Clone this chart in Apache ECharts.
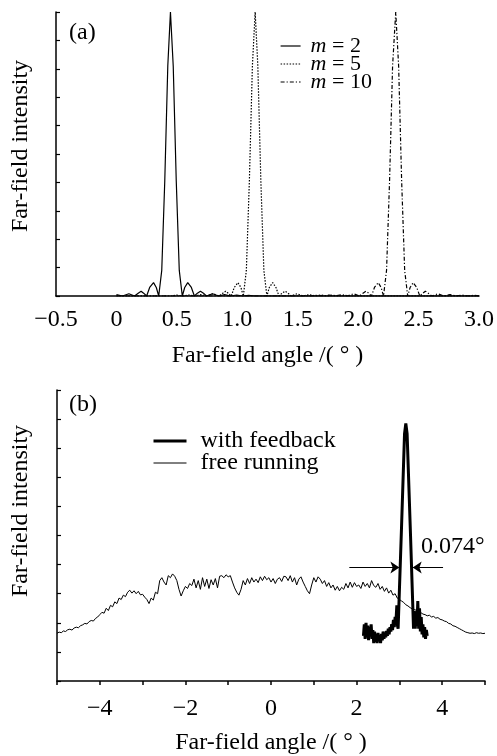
<!DOCTYPE html>
<html><head><meta charset="utf-8">
<script src="https://cdn.jsdelivr.net/npm/echarts@6/dist/echarts.min.js"></script>
<style>html,body{margin:0;padding:0;background:#fff}#c{width:497px;height:756px}</style>
</head><body><div id="c"></div>
<script>
const FONT = '"Liberation Serif","Times New Roman",serif';

// ---- panel (a): far-field intensity vs angle (deg), m = 2, 5, 10
const seriesNamesA = ['m = 2', 'm = 5', 'm = 10'];
const m2 = [[0.0,0.05],[0.05,0],[0.103,0.08],[0.15,0],[0.18,0.1],[0.204,0.17],[0.225,0.1],[0.25,0],[0.275,0.3],[0.307,0.47],[0.33,0.3],[0.35,0],
  [0.375,0.9],[0.40,4.05],[0.425,8.1],[0.447,10],[0.47,8.1],[0.495,4.05],[0.52,0.9],[0.545,0],
  [0.565,0.3],[0.59,0.47],[0.62,0.3],[0.645,0],[0.67,0.1],[0.695,0.17],[0.72,0.1],[0.745,0],[0.795,0.08],[0.845,0],[0.895,0.05],[0.945,0],[0.995,0.035],[1.045,0],[1.095,0.025],[1.145,0],[3.0,0]];
const m5 = [[0.0,0],[0.45,0],[0.50,0.03],[0.55,0],[0.60,0.035],[0.65,0],[0.70,0.05],[0.75,0],[0.80,0.08],[0.85,0],[0.88,0.1],[0.904,0.17],[0.925,0.1],[0.95,0],
  [0.975,0.3],[1.005,0.47],[1.03,0.3],[1.05,0],[1.075,0.9],[1.10,4.05],[1.125,8.1],[1.148,10],[1.17,8.1],[1.195,4.05],[1.22,0.9],[1.245,0],
  [1.265,0.3],[1.293,0.47],[1.32,0.3],[1.345,0],[1.37,0.1],[1.395,0.17],[1.42,0.1],[1.445,0],[1.495,0.08],[1.545,0],[1.595,0.05],[1.645,0],[1.695,0.035],[1.745,0],[1.795,0.025],[1.845,0],[1.895,0.02],[1.945,0],[3.0,0]];
const m10 = [[0.0,0],[1.61,0],[1.66,0.025],[1.71,0],[1.76,0.035],[1.81,0],[1.862,0.05],[1.91,0],[1.963,0.08],[2.01,0],[2.04,0.1],[2.064,0.17],[2.088,0.1],[2.11,0],
  [2.135,0.3],[2.167,0.47],[2.19,0.3],[2.21,0],[2.235,0.9],[2.26,4.05],[2.285,8.1],[2.311,10],[2.335,8.1],[2.36,4.05],[2.385,0.9],[2.41,0],
  [2.43,0.3],[2.455,0.47],[2.485,0.3],[2.51,0],[2.535,0.1],[2.556,0.17],[2.58,0.1],[2.61,0],[2.66,0.08],[2.71,0],[2.76,0.05],[2.81,0],[2.86,0.035],[2.91,0],[2.96,0.025],[3.0,0]];

// ---- panel (b): measured far field
const seriesNamesB = ['with feedback', 'free running'];
const freeRunning = [
[-5.00,1.64],[-4.95,1.68],[-4.90,1.66],[-4.85,1.72],[-4.80,1.70],[-4.75,1.76],[-4.70,1.78],[-4.65,1.75],[-4.60,1.82],[-4.55,1.85],
[-4.50,1.83],[-4.45,1.90],[-4.40,1.93],[-4.35,1.98],[-4.30,1.96],[-4.25,2.04],[-4.20,2.08],[-4.15,2.06],[-4.10,2.15],[-4.05,2.20],
[-4.00,2.28],[-3.95,2.36],[-3.90,2.33],[-3.85,2.50],[-3.80,2.42],[-3.75,2.60],[-3.70,2.55],[-3.65,2.72],[-3.60,2.66],[-3.55,2.85],
[-3.50,2.80],[-3.45,2.95],[-3.40,2.90],[-3.35,3.05],[-3.30,3.12],[-3.25,3.02],[-3.20,3.10],[-3.15,3.00],[-3.10,3.08],[-3.05,2.96],
[-3.00,2.98],[-2.95,2.88],[-2.90,2.80],[-2.85,2.66],[-2.80,2.85],[-2.75,2.78],[-2.70,3.05],[-2.65,3.00],[-2.60,3.45],[-2.55,3.55],
[-2.50,3.40],[-2.45,3.30],[-2.40,3.62],[-2.35,3.55],[-2.30,3.68],[-2.25,3.60],[-2.20,3.45],[-2.15,3.15],[-2.10,2.92],[-2.05,3.10],
[-2.00,3.25],[-1.95,3.18],[-1.90,3.35],[-1.85,3.28],[-1.80,3.50],[-1.75,3.20],[-1.70,3.45],[-1.65,3.15],[-1.60,3.55],[-1.55,3.25],
[-1.50,3.50],[-1.45,3.18],[-1.40,3.48],[-1.35,3.30],[-1.30,3.52],[-1.25,3.20],[-1.20,3.60],[-1.15,3.62],[-1.10,3.55],[-1.05,3.65],
[-1.00,3.58],[-0.95,3.62],[-0.90,3.40],[-0.85,3.20],[-0.80,3.05],[-0.75,2.95],[-0.70,3.15],[-0.65,3.45],[-0.60,3.30],[-0.55,3.52],
[-0.50,3.35],[-0.45,3.55],[-0.40,3.40],[-0.35,3.50],[-0.30,3.38],[-0.25,3.58],[-0.20,3.45],[-0.15,3.60],[-0.10,3.48],[-0.05,3.55],
[0.00,3.40],[0.05,3.52],[0.10,3.35],[0.15,3.50],[0.20,3.55],[0.25,3.42],[0.30,3.60],[0.35,3.58],[0.40,3.45],[0.45,3.62],
[0.50,3.40],[0.55,3.55],[0.60,3.30],[0.65,3.50],[0.70,3.58],[0.75,3.40],[0.80,3.25],[0.85,3.10],[0.90,3.00],[0.95,3.30],
[1.00,3.55],[1.05,3.40],[1.10,3.58],[1.15,3.50],[1.20,3.35],[1.25,3.45],[1.30,3.25],[1.35,3.38],[1.40,3.20],[1.45,3.30],
[1.50,3.12],[1.55,3.25],[1.60,3.10],[1.65,3.22],[1.70,3.15],[1.75,3.35],[1.80,3.20],[1.85,3.40],[1.90,3.22],[1.95,3.38],
[2.00,3.25],[2.05,3.30],[2.10,3.18],[2.15,3.40],[2.20,3.25],[2.25,3.35],[2.30,3.20],[2.35,3.45],[2.40,3.28],[2.45,3.22],
[2.50,3.35],[2.55,3.15],[2.60,3.25],[2.65,3.08],[2.70,3.20],[2.75,3.02],[2.80,3.12],[2.85,2.95],[2.90,3.00],[2.95,2.85],
[3.00,2.80],[3.05,2.75],[3.10,2.70],[3.15,2.62],[3.20,2.58],[3.25,2.52],[3.30,2.48],[3.35,2.46],[3.40,2.42],[3.45,2.38],
[3.50,2.35],[3.55,2.30],[3.60,2.28],[3.65,2.24],[3.70,2.26],[3.75,2.20],[3.80,2.22],[3.85,2.16],[3.90,2.18],[3.95,2.12],
[4.00,2.10],[4.05,2.06],[4.10,2.04],[4.15,1.98],[4.20,1.96],[4.25,1.90],[4.30,1.88],[4.35,1.84],[4.40,1.80],[4.45,1.76],
[4.50,1.72],[4.55,1.68],[4.60,1.66],[4.65,1.64],[4.70,1.65],[4.75,1.63],[4.80,1.66],[4.85,1.64],[4.90,1.65],[4.95,1.63],[5.00,1.64]];
const withFeedback = [
[2.16,1.55],[2.18,1.95],[2.20,1.45],[2.22,2.00],[2.24,1.50],[2.26,1.90],[2.28,1.40],[2.30,1.85],[2.32,1.55],[2.34,1.95],
[2.36,1.45],[2.38,1.75],[2.40,1.30],[2.42,1.70],[2.44,1.35],[2.46,1.60],[2.48,1.30],[2.50,1.65],[2.52,1.38],[2.54,1.55],
[2.56,1.30],[2.58,1.62],[2.60,1.40],[2.62,1.70],[2.64,1.45],[2.66,1.65],[2.68,1.50],[2.70,1.72],[2.72,1.55],[2.74,1.80],
[2.76,1.60],[2.78,1.85],[2.80,1.70],[2.82,1.95],[2.84,1.75],[2.86,2.10],[2.88,1.85],[2.90,2.20],[2.92,2.05],[2.94,2.60],
[2.955,1.90],[2.97,1.80],[3.05,5.3],[3.12,8.5],[3.15,8.85],[3.18,8.5],[3.26,5.0],[3.33,1.8],
[3.35,2.4],[3.37,1.8],[3.39,2.2],[3.41,1.9],[3.43,2.75],[3.45,1.8],[3.47,2.5],[3.49,1.7],[3.51,2.2],[3.53,1.6],
[3.55,1.95],[3.57,1.5],[3.59,1.85],[3.61,1.45],[3.63,1.75],[3.65,1.55]];
// width annotation: arrow level and arrow ends (angle, intensity)
const widthLabel = '0.074\u00b0';
const arrowLevel = 3.9;
const arrowLeft = [1.83, 3.0];
const arrowRight = [4.02, 3.31];

const black = '#000';
const txt = {fontFamily: FONT, fontSize: 24, color: black};
const minus = v => (v < 0 ? '\u2212' : '');
const yTitle = 'Far-field intensity';
const xTitle = 'Far-field angle /( \u00b0 )';

const chart = echarts.init(document.getElementById('c'));
const yAxisCommon = {type: 'value', min: 0, max: 10, interval: 1,
  axisLine: {show: true, onZero: false, lineStyle: {color: black, width: 1.5}},
  axisTick: {show: true, inside: true, length: 4, lineStyle: {color: black, width: 1.2}},
  axisLabel: {show: false}, splitLine: {show: false}};
chart.setOption({
  animation: false,
  backgroundColor: '#fff',
  textStyle: {fontFamily: FONT, color: black},
  grid: [
    {left: 56, top: 12, width: 424, height: 284},
    {left: 57, top: 390, width: 428, height: 292}
  ],
  xAxis: [
    {gridIndex: 0, type: 'value', min: -0.5, max: 3.0, interval: 0.5,
     name: xTitle, nameLocation: 'middle', nameGap: 48, nameTextStyle: txt,
     axisLine: {onZero: false, lineStyle: {color: black, width: 1.5}}, axisTick: {show: false},
     axisLabel: Object.assign({}, txt, {margin: 12, formatter: v => v === 0 ? '0' : minus(v) + Math.abs(v).toFixed(1)}),
     splitLine: {show: false}},
    {gridIndex: 1, type: 'value', min: -5, max: 5, interval: 1,
     name: xTitle, nameLocation: 'middle', nameGap: 50, nameTextStyle: txt,
     axisLine: {onZero: false, lineStyle: {color: black, width: 1.5}},
     axisTick: {show: true, length: 4, lineStyle: {color: black, width: 1.5}},
     axisLabel: Object.assign({}, txt, {margin: 16, formatter: v => (Math.round(v) % 2 === 0) ? minus(v) + Math.abs(v) : ''}),
     splitLine: {show: false}}
  ],
  yAxis: [
    Object.assign({gridIndex: 0}, yAxisCommon),
    Object.assign({gridIndex: 1}, yAxisCommon)
  ],
  legend: [
    {orient: 'vertical', left: 280, top: 35, padding: 0, itemWidth: 20, itemHeight: 14, itemGap: -4,
     selectedMode: false, data: seriesNamesA, lineStyle: {width: 1.2}, itemStyle: {opacity: 0},
     formatter: n => '{i|m}' + n.slice(1),
     textStyle: {fontFamily: FONT, fontSize: 22, color: black, padding: [0, 0, 0, 5],
       rich: {i: {fontFamily: FONT, fontSize: 22, fontStyle: 'italic', color: black}}}},
    {orient: 'vertical', left: 152, top: 429, padding: 0, itemWidth: 33, itemHeight: 14, itemGap: -2,
     selectedMode: false, itemStyle: {opacity: 0},
     data: [{name: seriesNamesB[0], lineStyle: {width: 3}}, {name: seriesNamesB[1], lineStyle: {width: 1}}],
     textStyle: {fontFamily: FONT, fontSize: 24, color: black, padding: [0, 0, 0, 9]}}
  ],
  graphic: [
    {type: 'text', left: 69, top: 21, style: {text: '(a)', font: '24px ' + FONT, fill: black}},
    {type: 'text', left: 69, top: 393, style: {text: '(b)', font: '24px ' + FONT, fill: black}},
    {type: 'text', left: 421, top: 535, style: {text: widthLabel, font: '24px ' + FONT, fill: black}},
    {type: 'text', x: 21, y: 146, rotation: Math.PI / 2,
     style: {text: yTitle, font: '24px ' + FONT, fill: black, textAlign: 'center', textVerticalAlign: 'middle'}},
    {type: 'text', x: 21, y: 511, rotation: Math.PI / 2,
     style: {text: yTitle, font: '24px ' + FONT, fill: black, textAlign: 'center', textVerticalAlign: 'middle'}}
  ],
  series: [
    {name: seriesNamesA[0], type: 'line', xAxisIndex: 0, yAxisIndex: 0, data: m2, symbol: 'none',
     lineStyle: {color: black, width: 1.2}, itemStyle: {color: black}},
    {name: seriesNamesA[1], type: 'line', xAxisIndex: 0, yAxisIndex: 0, data: m5, symbol: 'none',
     lineStyle: {color: black, width: 1.2, type: [1.5, 1.5]}, itemStyle: {color: black}},
    {name: seriesNamesA[2], type: 'line', xAxisIndex: 0, yAxisIndex: 0, data: m10, symbol: 'none',
     lineStyle: {color: black, width: 1.2, type: [4, 2, 1.2, 2]}, itemStyle: {color: black}},
    {name: seriesNamesB[1], type: 'line', xAxisIndex: 1, yAxisIndex: 1, data: freeRunning, symbol: 'none',
     lineStyle: {color: black, width: 1}, itemStyle: {color: black}},
    {name: seriesNamesB[0], type: 'line', xAxisIndex: 1, yAxisIndex: 1, data: withFeedback, symbol: 'none',
     lineStyle: {color: black, width: 3}, itemStyle: {color: black},
     markLine: {silent: true, symbol: ['none', 'arrow'], symbolSize: 9, animation: false,
       label: {show: false}, lineStyle: {color: black, width: 1, type: 'solid'},
       data: [
         [{coord: [arrowLeft[0], arrowLevel]}, {coord: [arrowLeft[1], arrowLevel]}],
         [{coord: [arrowRight[0], arrowLevel]}, {coord: [arrowRight[1], arrowLevel]}]
       ]}}
  ]
});
</script>
</body></html>
